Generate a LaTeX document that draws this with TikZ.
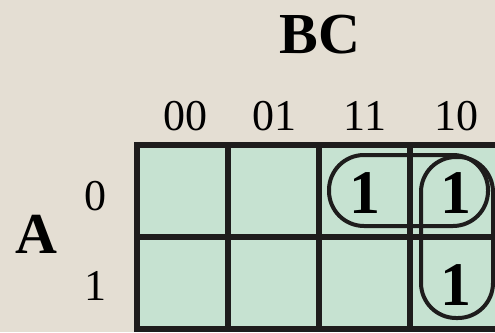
\documentclass[tikz,border=0pt]{standalone}
\usepackage{fontspec}
\setmainfont{Liberation Serif}
\begin{document}
\begin{tikzpicture}[x=1pt,y=-1pt,
  grid/.style={line width=6pt, line cap=rect, draw={rgb,255:red,30;green,28;blue,28}},
  loopbox/.style={draw={rgb,255:red,30;green,28;blue,28}, line width=4pt, rounded corners=35pt},
  hdr/.style={font=\fontsize{58}{60}\selectfont\bfseries, anchor=base, inner sep=0pt},
  lbl/.style={font=\fontsize{44}{46}\selectfont, anchor=base, inner sep=0pt},
  one/.style={font=\fontsize{62}{64}\selectfont\bfseries, anchor=base, inner sep=0pt}]
\useasboundingbox (0,0) rectangle (495,332);
\fill[color={rgb,255:red,228;green,222;blue,211}] (0,0) rectangle (495,332);
\begin{scope}
\clip (0,0) rectangle (495,332);
\fill[color={rgb,255:red,198;green,226;blue,209}] (137,145) rectangle (501,329);
\draw[grid] (137,145) -- (510,145);
\draw[grid] (137,237) -- (510,237);
\draw[grid] (137,329) -- (510,329);
\foreach \x in {137,228,319,410}
  \draw[grid] (\x,145) -- (\x,329);
\draw[loopbox] (329,155) rectangle (488,226);
\draw[loopbox] (421,157) rectangle (493,318);
\end{scope}
\node[hdr] (bc) at (320,53) {BC};
\node[lbl] (c00) at (185,130) {00};
\node[lbl] (c01) at (274,130) {01};
\node[lbl] (c11) at (365,130) {11};
\node[lbl] (c10) at (456,130) {10};
\node[lbl] (r0) at (95,210) {0};
\node[lbl] (r1) at (95,300) {1};
\node[hdr] (a) at (36,253) {A};
\node[one] (m3) at (365,213) {1};
\node[one] (m2) at (456,213) {1};
\node[one] (m6) at (456,305) {1};
\end{tikzpicture}
\end{document}
